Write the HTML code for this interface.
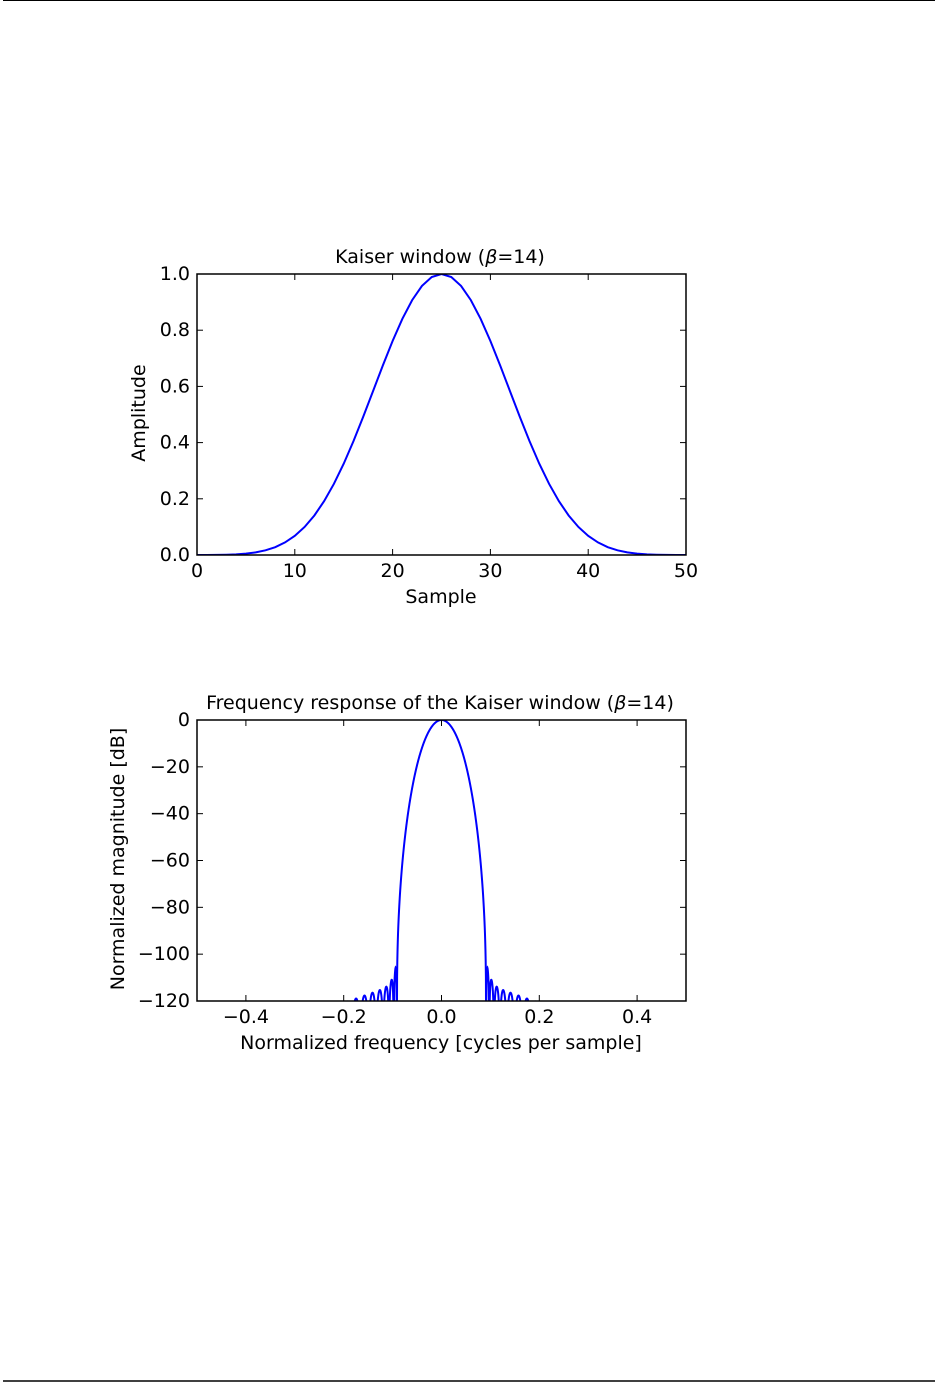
<!DOCTYPE html>
<html><head><meta charset="utf-8"><style>
body{margin:0;background:#fff;width:950px;height:1382px;overflow:hidden}
svg text{font-family:"DejaVu Sans","Liberation Sans",sans-serif;font-size:19px;fill:#000}
</style></head><body>
<svg id="s" width="950" height="1382" xmlns="http://www.w3.org/2000/svg">
<line x1="3" y1="0.5" x2="935" y2="0.5" stroke="#000" stroke-width="1"/>
<line x1="3" y1="1381" x2="935" y2="1381" stroke="#000" stroke-width="1.5"/>
<defs>
<clipPath id="c1"><rect x="197" y="274" width="489" height="281"/></clipPath>
<clipPath id="c2"><rect x="197" y="720" width="489" height="281"/></clipPath>
</defs>
<path id="p1" clip-path="url(#c1)" fill="none" stroke="#0000ff" stroke-width="2"/>
<path id="p2" clip-path="url(#c2)" fill="none" stroke="#0000ff" stroke-width="2"/>
<g id="ax"></g>
<text x="440" y="263" text-anchor="middle">Kaiser window (<tspan font-style="italic">β</tspan>=14)</text>
<text x="441" y="603" text-anchor="middle">Sample</text>
<text transform="translate(145,413) rotate(-90)" text-anchor="middle">Amplitude</text>
<text x="440" y="709" text-anchor="middle">Frequency response of the Kaiser window (<tspan font-style="italic">β</tspan>=14)</text>
<text x="441" y="1049" text-anchor="middle">Normalized frequency [cycles per sample]</text>
<text transform="translate(124,859) rotate(-90)" text-anchor="middle">Normalized magnitude [dB]</text>
</svg>
<script>
function I0(x){let s=1,t=1;for(let k=1;k<60;k++){t*=(x/2)/k;s+=t*t;}return s;}
const N=51,b=14,w=[];for(let n=0;n<N;n++){const r=2*n/(N-1)-1;w.push(I0(b*Math.sqrt(Math.max(0,1-r*r)))/I0(b));}
const L=197,R=686;
let d='';for(let n=0;n<N;n++){d+=(n?'L':'M')+(L+n*(R-L)/50).toFixed(2)+','+(555-w[n]*281).toFixed(2);}
document.getElementById('p1').setAttribute('d',d);
const M=2048,mag=[];let mx=0;
for(let k=0;k<M;k++){const f=-0.5+k/M;let re=0,im=0;for(let n=0;n<N;n++){re+=w[n]*Math.cos(2*Math.PI*f*n);im-=w[n]*Math.sin(2*Math.PI*f*n);}const a=Math.hypot(re,im);mag.push(a);if(a>mx)mx=a;}
d='';for(let k=0;k<M;k++){const f=-0.5+k/M;let db=20*Math.log10(mag[k]/mx+1e-20);if(db<-200)db=-200;d+=(k?'L':'M')+(L+(f+0.5)*(R-L)).toFixed(2)+','+(720-db/120*281).toFixed(2);}
document.getElementById('p2').setAttribute('d',d);
const ax=document.getElementById('ax');let h='';
function box(T,B){h+=`<rect x="197" y="${T}" width="489" height="${B-T}" fill="none" stroke="#000" stroke-width="1.5"/>`;}
box(274,555);box(720,1001);
for(let i=0;i<=5;i++){const x=L+i*(R-L)/5;h+=`<line x1="${x}" y1="555" x2="${x}" y2="549" stroke="#000"/><line x1="${x}" y1="274" x2="${x}" y2="280" stroke="#000"/><text x="${x}" y="577" text-anchor="middle">${i*10}</text>`;
const y=555-i*281/5;h+=`<line x1="197" y1="${y}" x2="203" y2="${y}" stroke="#000"/><line x1="686" y1="${y}" x2="680" y2="${y}" stroke="#000"/><text x="190" y="${y+6}" text-anchor="end">${(i*0.2).toFixed(1)}</text>`;}
const fl=['−0.4','−0.2','0.0','0.2','0.4'];
for(let i=0;i<5;i++){const x=L+(0.1+i*0.2)*(R-L);h+=`<line x1="${x}" y1="1001" x2="${x}" y2="995" stroke="#000"/><line x1="${x}" y1="720" x2="${x}" y2="726" stroke="#000"/><text x="${x}" y="1023" text-anchor="middle">${fl[i]}</text>`;}
for(let i=0;i<=6;i++){const y=720+i*281/6;h+=`<line x1="197" y1="${y}" x2="203" y2="${y}" stroke="#000"/><line x1="686" y1="${y}" x2="680" y2="${y}" stroke="#000"/><text x="190" y="${y+6}" text-anchor="end">${i?'−'+i*20:'0'}</text>`;}
ax.innerHTML=h;
</script>
</body></html>
